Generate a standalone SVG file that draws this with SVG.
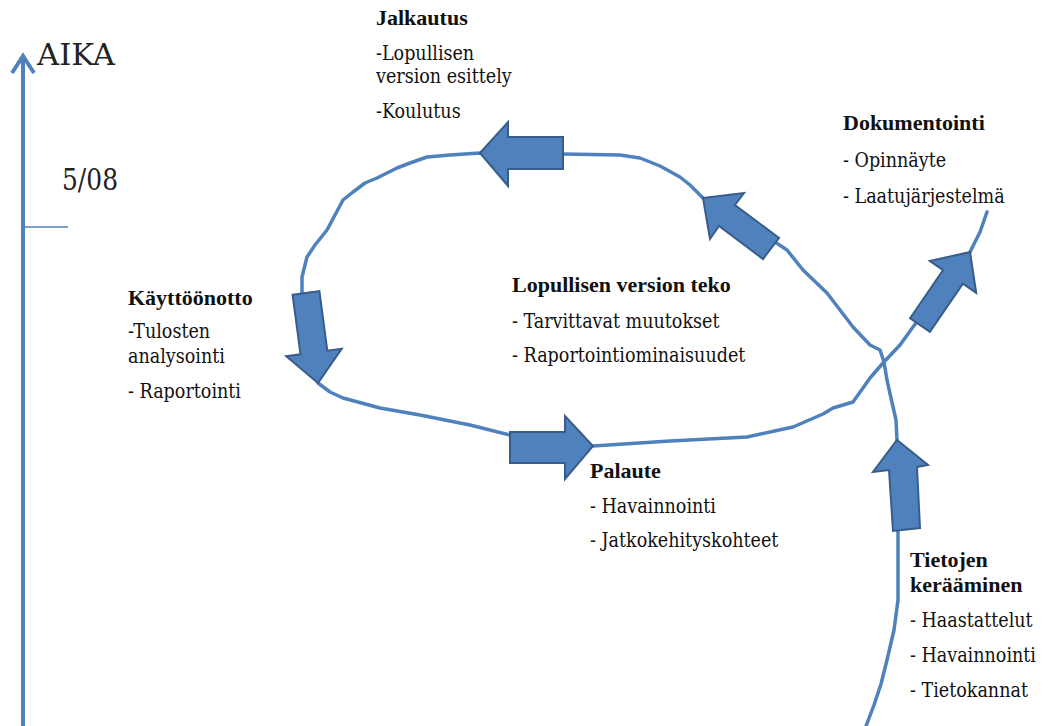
<svg xmlns="http://www.w3.org/2000/svg" width="1050" height="726" viewBox="0 0 1050 726">
<style>
  .t { font-family: "DejaVu Serif Condensed", "DejaVu Serif", serif; font-stretch: condensed; font-size: 19.5px; fill: #111; }
  .b { font-family: "Liberation Serif", "DejaVu Serif", serif; font-stretch: normal; font-size: 22px; font-weight: bold; }
  .big { font-family: "DejaVu Serif Condensed", "DejaVu Serif", serif; font-stretch: condensed; font-size: 30px; fill: #222; }
  .line { fill: none; stroke: #4F81BD; stroke-width: 3.5; stroke-linejoin: round; stroke-linecap: round; }
  .blk { fill: #4F81BD; stroke: #385D8A; stroke-width: 2; stroke-linejoin: miter; }
  .axis { fill: none; stroke: #4F81BD; stroke-width: 4; }
</style>
<rect width="1050" height="726" fill="#ffffff"/>

<g id="axis">
  <line class="axis" x1="23" y1="726" x2="23" y2="56"/>
  <polyline class="axis" points="12,73 23,56 34,73" stroke-linejoin="miter"/>
  <line x1="23" y1="227" x2="68" y2="227" stroke="#4F81BD" stroke-width="1.6"/>
  <text class="big" x="37" y="65" textLength="78" lengthAdjust="spacingAndGlyphs">AIKA</text>
  <text class="big" x="62" y="190" textLength="56" lengthAdjust="spacingAndGlyphs">5/08</text>
</g>

<g id="connectors">
  <path class="line" d="M866,726 L874,705 L881,684 L887,660 L894,630 L898,600 L898,560 L898,532 L897,440 L896,420 L891,398 L887,380 L884,362 L880,350 L870,345 L853,327 L840,310 L827,293 L803,270 L787,250 L775,242 L703,198 L690,185 L680,177 L660,166 L640,158 L620,155 L563,154 L480,153 L450,155 L427,157 L410,163 L397,168 L377,178 L365,183 L353,192 L343,200 L335,215 L327,230 L315,245 L307,257 L302,277 L302,293 L318,383 L330,392 L343,398 L380,408 L420,415 L470,425 L510,435 L593,446 L670,441 L747,437 L793,427 L823,414 L833,408 L853,402 L863,388 L870,378 L883,363 L900,345 L913,327 L970,252 L980,232 L987,212"/>
  <polygon class="blk" points="480,153 508,122 508,137 563,137 563,169 508,169 508,186"/>
  <polygon class="blk" points="292.6,294.8 319.4,291.2 327.3,350.7 341.7,348.8 318,383 286.2,356.2 300.5,354.3"/>
  <polygon class="blk" points="510,432 565,432 565,416 593,446 565,479 565,463 510,463"/>
  <polygon class="blk" points="703,198 744,193 735,205 779,238 763,259 719,226 710,239"/>
  <polygon class="blk" points="970,252 976.2,292.8 962.9,283.7 929.9,331.8 910.1,318.2 943.1,270.1 929.8,261"/>
  <polygon class="blk" points="897,440 928,465 917,467 920,528 893,531 889,470 873,472"/>
</g>

<g id="jalkautus">
  <text class="t b" x="376" y="25">Jalkautus</text>
  <text class="t" x="376" y="60">-Lopullisen</text>
  <text class="t" x="376" y="83">version esittely</text>
  <text class="t" x="376" y="118">-Koulutus</text>
</g>

<g id="dokumentointi">
  <text class="t b" x="843" y="130">Dokumentointi</text>
  <text class="t" x="843" y="167">- Opinnäyte</text>
  <text class="t" x="843" y="203">- Laatujärjestelmä</text>
</g>

<g id="lopullisen">
  <text class="t b" x="512" y="292">Lopullisen version teko</text>
  <text class="t" x="512" y="328">- Tarvittavat muutokset</text>
  <text class="t" x="512" y="362">- Raportointiominaisuudet</text>
</g>

<g id="kayttoonotto">
  <text class="t b" x="128" y="305">Käyttöönotto</text>
  <text class="t" x="128" y="338">-Tulosten</text>
  <text class="t" x="128" y="363">analysointi</text>
  <text class="t" x="128" y="398">- Raportointi</text>
</g>

<g id="palaute">
  <text class="t b" x="590" y="478">Palaute</text>
  <text class="t" x="590" y="513">- Havainnointi</text>
  <text class="t" x="590" y="547">- Jatkokehityskohteet</text>
</g>

<g id="tietojen">
  <text class="t b" x="910" y="567">Tietojen</text>
  <text class="t b" x="910" y="592">kerääminen</text>
  <text class="t" x="910" y="627">- Haastattelut</text>
  <text class="t" x="910" y="662">- Havainnointi</text>
  <text class="t" x="910" y="697">- Tietokannat</text>
</g>
</svg>
